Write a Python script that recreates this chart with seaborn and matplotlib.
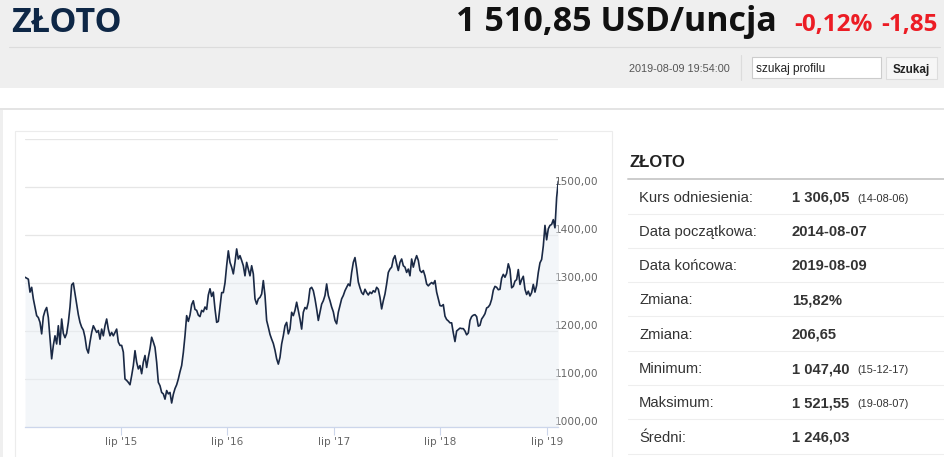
import numpy as np
import pandas as pd
import seaborn as sns
import matplotlib.pyplot as plt
import matplotlib.dates as mdates
from matplotlib.patches import Rectangle

# Dane (kurs zlota USD/uncja, co ok. 5,7 dnia)
data_od = '2014-08-07'
data_do = '2019-08-09'
ceny_2014_2015 = [1312, 1310, 1308, 1281, 1291, 1267, 1249, 1232, 1228, 1218,
                  1194, 1230, 1242, 1249, 1228, 1185, 1142, 1170, 1190, 1173,
                  1211, 1172, 1225, 1195, 1186, 1195, 1218, 1250, 1296, 1300,
                  1278, 1255, 1234, 1218, 1208, 1202, 1187, 1163, 1154, 1177,
                  1197, 1211, 1204, 1197, 1201, 1183, 1204, 1190, 1211, 1225,
                  1204, 1190, 1197, 1190, 1197, 1204, 1177, 1170]
ceny_2015_2016 = [1170, 1156, 1100, 1097, 1093, 1088, 1107, 1128, 1159, 1135,
                  1121, 1128, 1111, 1135, 1149, 1124, 1145, 1163, 1187, 1177,
                  1166, 1135, 1093, 1086, 1072, 1069, 1058, 1076, 1069, 1072,
                  1050, 1068, 1080, 1088, 1100, 1115, 1128, 1155, 1190, 1232,
                  1220, 1233, 1255, 1263, 1245, 1243, 1233, 1230, 1243, 1240,
                  1250, 1245, 1275, 1288, 1272, 1281, 1246, 1218, 1220, 1250]
ceny_2016_2017 = [1280, 1280, 1300, 1336, 1367, 1343, 1333, 1319, 1343, 1371,
                  1350, 1357, 1347, 1336, 1315, 1343, 1329, 1315, 1336, 1319,
                  1267, 1256, 1267, 1270, 1277, 1305, 1274, 1222, 1208, 1193,
                  1183, 1174, 1160, 1142, 1131, 1145, 1173, 1190, 1211, 1218,
                  1194, 1204, 1239, 1232, 1243, 1260, 1243, 1225, 1204, 1239,
                  1249, 1246, 1260, 1288, 1291, 1284, 1267, 1246, 1222, 1239,
                  1256, 1263, 1274, 1298, 1274, 1263]
ceny_2017_2018 = [1250, 1240, 1222, 1215, 1239, 1253, 1267, 1274, 1284, 1291,
                  1298, 1294, 1322, 1343, 1353, 1330, 1302, 1290, 1280, 1276,
                  1287, 1280, 1275, 1281, 1278, 1284, 1281, 1291, 1287, 1270,
                  1246, 1263, 1277, 1298, 1322, 1329, 1333, 1350, 1357, 1340,
                  1326, 1343, 1350, 1336, 1333, 1322, 1329, 1315, 1350, 1333,
                  1347, 1357, 1347, 1326, 1322, 1326, 1315, 1298, 1294, 1298,
                  1301, 1298, 1305, 1281, 1267, 1253]
ceny_2018_2019 = [1252, 1255, 1231, 1224, 1221, 1217, 1217, 1196, 1178, 1200,
                  1203, 1206, 1205, 1205, 1200, 1192, 1196, 1222, 1230, 1233,
                  1234, 1230, 1210, 1212, 1225, 1230, 1236, 1248, 1250, 1255,
                  1266, 1285, 1293, 1291, 1286, 1287, 1310, 1318, 1312, 1320,
                  1340, 1328, 1290, 1293, 1304, 1307, 1328, 1297, 1307, 1314,
                  1287, 1276, 1283, 1273, 1280, 1297, 1281, 1295, 1322, 1342,
                  1349, 1377, 1420, 1390, 1413, 1420, 1422, 1432, 1415, 1478,
                  1512]

tick_daty = ['2015-07-01', '2016-07-01', '2017-07-01', '2018-07-01', '2019-07-01']
tick_etykiety = ["lip '15", "lip '16", "lip '17", "lip '18", "lip '19"]
y_ticki = [1000, 1100, 1200, 1300, 1400, 1500, 1600]
y_etykiety = ['1000,00', '1100,00', '1200,00', '1300,00', '1400,00', '1500,00', '']

statystyki_nazwy = ['Kurs odniesienia:', 'Data początkowa:', 'Data końcowa:', 'Zmiana:',
                    'Zmiana:', 'Minimum:', 'Maksimum:', 'Średni:']
statystyki_wartosci = ['1 306,05', '2014-08-07', '2019-08-09', '15,82%', '206,65',
                       '1 047,40', '1 521,55', '1 246,03']
statystyki_daty = ['(14-08-06)', '', '', '', '', '(15-12-17)', '(19-08-07)', '']

ceny = ceny_2014_2015 + ceny_2015_2016 + ceny_2016_2017 + ceny_2017_2018 + ceny_2018_2019
daty = pd.date_range(data_od, data_do, periods=len(ceny))
df = pd.DataFrame({'data': daty, 'cena': ceny})

sns.set_style('white')
plt.rcParams['font.family'] = ['Liberation Sans', 'DejaVu Sans']

fig = plt.figure(figsize=(9.45, 4.57), dpi=100)
fig.patch.set_facecolor('#efefef')

# tlo strony w pikselach
bg = fig.add_axes([0, 0, 1, 1])
bg.set_xlim(0, 945)
bg.set_ylim(457, 0)
bg.axis('off')
bg.add_patch(Rectangle((0, 88), 945, 20, fc='white', ec='none'))
bg.add_patch(Rectangle((0, 108), 945, 2, fc='#e4e4e4', ec='none'))
bg.add_patch(Rectangle((3, 110), 942, 347, fc='white', ec='none'))
bg.add_patch(Rectangle((15, 131), 597, 335, fc='white', ec='#ececec', lw=0.8))

# naglowek
bg.plot([9, 940], [47, 47], color='#dcdcdc', lw=0.8)
bg.text(11, 32, 'ZŁOTO', fontsize=24.5, fontweight='bold', color='#0e2746',
        family=['Open Sans', 'DejaVu Sans'], va='baseline')
bg.text(777, 31, '1 510,85 USD/uncja', fontsize=24.5, fontweight='bold', color='#111111',
        family=['Open Sans', 'DejaVu Sans'], ha='right', va='baseline')
bg.text(794, 31, '-0,12%', fontsize=17.5, fontweight='bold', color='#ec1c24',
        family=['Open Sans', 'DejaVu Sans'], va='baseline')
bg.text(938, 31, '-1,85', fontsize=17.5, fontweight='bold', color='#ec1c24',
        family=['Open Sans', 'DejaVu Sans'], ha='right', va='baseline')
bg.text(730, 72, '2019-08-09 19:54:00', fontsize=7.8, color='#555555', ha='right', va='baseline')
bg.plot([741, 741], [55, 80], color='#dcdcdc', lw=0.8)
bg.add_patch(Rectangle((752, 57), 129, 21, fc='white', ec='#cccccc', lw=0.8))
bg.text(756, 72, 'szukaj profilu', fontsize=8.6, color='#222222', va='baseline')
bg.add_patch(Rectangle((886, 57), 51, 22, fc='#f6f6f6', ec='#dddddd', lw=0.8))
bg.text(911.5, 72.5, 'Szukaj', fontsize=8.4, fontweight='bold', color='#222222',
        ha='center', va='baseline')

# panel statystyk
bg.text(629, 167, 'ZŁOTO', fontsize=12, fontweight='bold', color='#222222', va='baseline')
bg.plot([628, 945], [179, 179], color='#cccccc', lw=1.4)
for i, (nazwa, wartosc, dzien) in enumerate(zip(statystyki_nazwy, statystyki_wartosci, statystyki_daty)):
    yb = 201.5 + i * 34.3
    bg.text(639, yb, nazwa, fontsize=10.6, color='#333333', va='baseline')
    bg.text(792, yb, wartosc, fontsize=10.6, fontweight='bold', color='#333333', va='baseline')
    if dzien:
        bg.text(857, yb, dzien, fontsize=7.9, color='#333333', va='baseline')
    bg.plot([628, 945], [yb + 12, yb + 12], color='#eeeeee', lw=0.8)

# wykres
ax = fig.add_axes([25 / 945, 30 / 457, 533.3 / 945, 288 / 457])
ax.set_facecolor('white')
sns.lineplot(data=df, x='data', y='cena', ax=ax, color='#1a2945', lw=1.2, zorder=3)
ax.fill_between(df['data'], df['cena'], 1000, color='#e9eef4', alpha=0.5, lw=0, zorder=2)
ax.set_xlim(daty[0], daty[-1])
ax.set_ylim(1000, 1600)
ax.set_xlabel('')
ax.set_ylabel('')

ax.set_xticks(mdates.date2num(pd.to_datetime(tick_daty)))
ax.set_xticklabels(tick_etykiety)
ax.tick_params(axis='x', length=5.5, width=0.8, color='#ccd6eb', labelsize=7.6,
               labelcolor='#666666', pad=1.5, direction='out', bottom=True)
for lab in ax.get_xticklabels():
    lab.set_family('DejaVu Sans')

ax.set_yticks(y_ticki)
ax.set_yticklabels(y_etykiety)
ax.yaxis.tick_right()
ax.tick_params(axis='y', length=0, pad=-2.5, labelsize=7.6, labelcolor='#666666')
for lab in ax.get_yticklabels():
    lab.set_verticalalignment('bottom')
    lab.set_family('DejaVu Sans')

ax.grid(axis='y', color='#e6e6e6', lw=0.9)
ax.grid(axis='x', visible=False)
ax.set_axisbelow(True)
for s in ['top', 'left', 'right']:
    ax.spines[s].set_visible(False)
ax.spines['bottom'].set_color('#ccd6eb')
ax.spines['bottom'].set_linewidth(0.9)
ax.spines['bottom'].set_zorder(4)

fig.savefig('out.png', dpi=100, facecolor=fig.get_facecolor())
